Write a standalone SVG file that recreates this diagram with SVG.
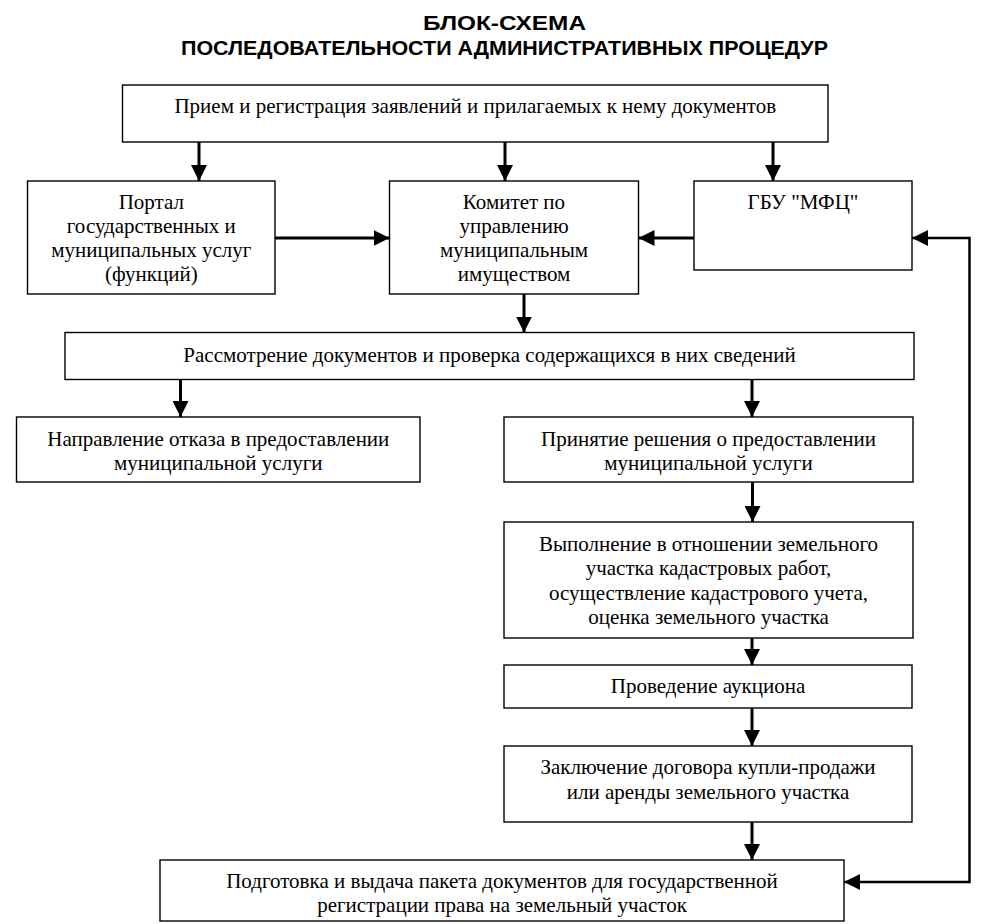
<svg xmlns="http://www.w3.org/2000/svg" width="983" height="924" viewBox="0 0 983 924">
<style>
.box{fill:#fff;stroke:#000;stroke-width:1.4}
.t{font-family:'Liberation Serif','Times New Roman',Tinos,'DejaVu Serif','Noto Serif',serif;font-size:21px;fill:#000;text-anchor:middle}
.h{font-family:'Liberation Sans',Arial,sans-serif;font-size:20px;font-weight:bold;fill:#000;text-anchor:middle}
.c{fill:none;stroke:#000;stroke-width:3}
.f{fill:none;stroke:#000;stroke-width:2.5}
</style>
<defs>
<marker id="ah" markerUnits="userSpaceOnUse" markerWidth="16" markerHeight="16" viewBox="0 0 14 14" refX="14" refY="7" orient="auto-start-reverse">
<path d="M0,0 L14,7 L0,14 Z" fill="#000"/>
</marker>
</defs>
<rect width="983" height="924" fill="#fff"/>
<g id="title">
<text class="h" x="504.5" y="30" textLength="163" lengthAdjust="spacingAndGlyphs">БЛОК-СХЕМА</text>
<text class="h" x="504.5" y="55" textLength="647" lengthAdjust="spacingAndGlyphs">ПОСЛЕДОВАТЕЛЬНОСТИ АДМИНИСТРАТИВНЫХ ПРОЦЕДУР</text>
</g>
<g id="connectors">
<line class="c" x1="199" y1="142" x2="199" y2="181" marker-end="url(#ah)"/>
<line class="c" x1="505" y1="142" x2="505" y2="181" marker-end="url(#ah)"/>
<line class="c" x1="773" y1="142" x2="773" y2="181" marker-end="url(#ah)"/>
<line class="c" x1="275" y1="238" x2="389.5" y2="238" marker-end="url(#ah)"/>
<line class="c" x1="694" y1="238" x2="638.5" y2="238" marker-end="url(#ah)"/>
<line class="c" x1="524" y1="294" x2="524" y2="332.5" marker-end="url(#ah)"/>
<line class="c" x1="180.5" y1="379.5" x2="180.5" y2="417" marker-end="url(#ah)"/>
<line class="c" x1="752" y1="379.5" x2="752" y2="417" marker-end="url(#ah)"/>
<line class="c" x1="752.5" y1="482" x2="752.5" y2="522" marker-end="url(#ah)"/>
<line class="c" x1="752" y1="627" x2="752" y2="665" marker-end="url(#ah)"/>
<line class="c" x1="752" y1="708" x2="752" y2="746" marker-end="url(#ah)"/>
<line class="c" x1="752" y1="822" x2="752" y2="860" marker-end="url(#ah)"/>
<polyline class="f" points="912,238 969.5,238 969.5,882 844,882" marker-start="url(#ah)" marker-end="url(#ah)"/>
</g>
<g id="n-priem">
<rect class="box" x="122.5" y="85" width="705.5" height="57"/>
<text class="t" x="475.3" y="113">Прием и регистрация заявлений и прилагаемых к нему документов</text>
</g>
<g id="n-portal">
<rect class="box" x="27.5" y="181" width="247.5" height="113"/>
<text class="t" x="151.3" y="209">Портал</text>
<text class="t" x="151.3" y="233">государственных и</text>
<text class="t" x="151.3" y="257">муниципальных услуг</text>
<text class="t" x="151.3" y="281">(функций)</text>
</g>
<g id="n-komitet">
<rect class="box" x="389.5" y="181" width="249" height="113"/>
<text class="t" x="514" y="209">Комитет по</text>
<text class="t" x="514" y="233">управлению</text>
<text class="t" x="514" y="257">муниципальным</text>
<text class="t" x="514" y="281">имуществом</text>
</g>
<g id="n-mfc">
<rect class="box" x="694" y="181" width="218" height="89"/>
<text class="t" x="803" y="209">ГБУ "МФЦ"</text>
</g>
<g id="n-rassm">
<rect class="box" x="65" y="332.5" width="849" height="47"/>
<text class="t" x="489.5" y="362">Рассмотрение документов и проверка содержащихся в них сведений</text>
</g>
<g id="n-otkaz">
<rect class="box" x="16.5" y="417" width="403.5" height="65"/>
<text class="t" x="218.3" y="446">Направление отказа в предоставлении</text>
<text class="t" x="218.3" y="470">муниципальной услуги</text>
</g>
<g id="n-prinyatie">
<rect class="box" x="504" y="417" width="409" height="65"/>
<text class="t" x="708.5" y="446">Принятие решения о предоставлении</text>
<text class="t" x="708.5" y="470">муниципальной услуги</text>
</g>
<g id="n-vypolnenie">
<rect class="box" x="504" y="522" width="409" height="116"/>
<text class="t" x="708.5" y="551">Выполнение в отношении земельного</text>
<text class="t" x="708.5" y="575">участка кадастровых работ,</text>
<text class="t" x="708.5" y="600">осуществление кадастрового учета,</text>
<text class="t" x="708.5" y="624">оценка земельного участка</text>
</g>
<g id="n-auction">
<rect class="box" x="504" y="665" width="408" height="43"/>
<text class="t" x="708" y="693">Проведение аукциона</text>
</g>
<g id="n-dogovor">
<rect class="box" x="504" y="746" width="408" height="76"/>
<text class="t" x="708" y="774">Заключение договора купли-продажи</text>
<text class="t" x="708" y="799">или аренды земельного участка</text>
</g>
<g id="n-paket">
<rect class="box" x="160" y="860" width="684" height="61"/>
<text class="t" x="502" y="888">Подготовка и выдача пакета документов для государственной</text>
<text class="t" x="502" y="912">регистрации права на земельный участок</text>
</g>
</svg>
